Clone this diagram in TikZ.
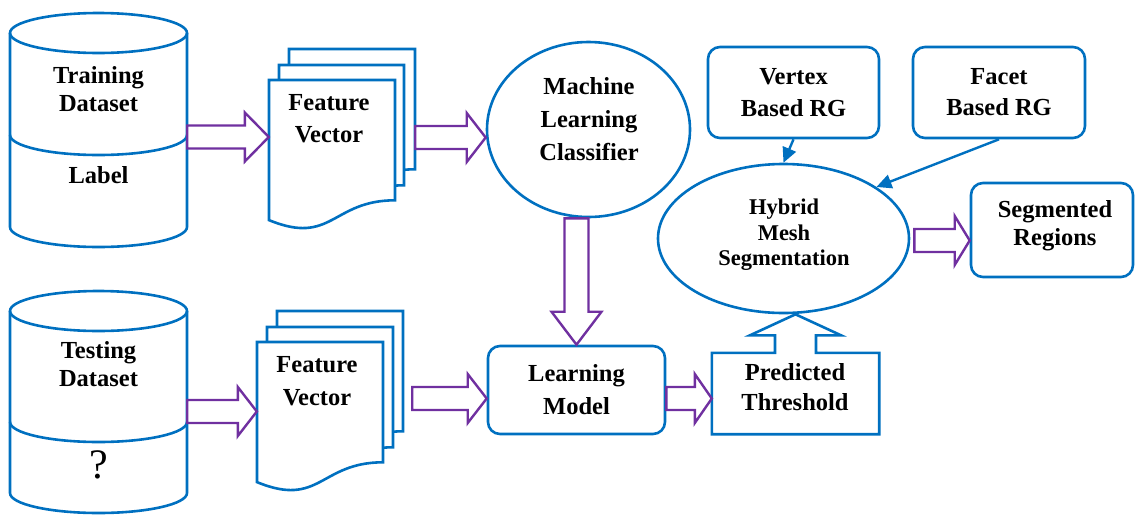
\documentclass[tikz,border=0pt]{standalone}
\usepackage{fontspec}
\setmainfont{Liberation Serif}
\usetikzlibrary{shapes.geometric,arrows.meta,calc}
\definecolor{lineblue}{HTML}{0070C0}
\definecolor{arrowpurple}{HTML}{7030A0}

% document page with a wavy lower edge: x, y (top left), width, height
\newcommand\docpage[4]{%
  \draw[docline] (#1,#2) -- ({#1+#3},#2) -- ({#1+#3},{#2+0.802*#4})
    .. controls ({#1+0.5*#3},{#2+0.802*#4}) and ({#1+0.5*#3},{#2+1.107*#4}) ..
    (#1,{#2+0.934*#4}) -- cycle;}

% database cylinder: centre x, half width, top y, divider y, bottom y, ry
\newcommand\database[6]{%
  \draw[shapeline] ({#1-#2},#3) -- ({#1-#2},#5)
    arc[start angle=180, end angle=360, x radius=#2pt, y radius=#6pt]
    -- ({#1+#2},#3);
  \draw[shapeline] (#1,#3) ellipse [x radius=#2pt, y radius=#6pt];
  \draw[shapeline] ({#1-#2},#4)
    arc[start angle=180, end angle=360, x radius=#2pt, y radius=#6pt];}

% horizontal block arrow: [head length]{start}{tip}{row y}
\newcommand\blockright[4][19]{%
  \draw[fatarrow] let \p1=(#2), \p2=(#3) in
    (\x1,-#4pt+11.5pt) -- (\x2-#1pt,-#4pt+11.5pt) -- (\x2-#1pt,-#4pt+24.5pt)
    -- (\x2,-#4pt) -- (\x2-#1pt,-#4pt-24.5pt) -- (\x2-#1pt,-#4pt-11.5pt)
    -- (\x1,-#4pt-11.5pt) -- cycle;}

\begin{document}
\begin{tikzpicture}[x=1pt,y=-1pt,
  shapeline/.style={draw=lineblue, line width=2.6pt},
  docline/.style={shapeline, fill=white, line join=miter},
  txt/.style={font=\fontsize{24.5}{33}\selectfont\bfseries, align=center, inner sep=0pt},
  roundbox/.style={shapeline, rounded corners=12pt, inner sep=0pt},
  oval/.style={shapeline, ellipse, inner sep=0pt},
  region/.style={inner sep=0pt},
  fatarrow/.style={draw=arrowpurple, line width=2.4pt, fill=white, line join=miter},
  thinarrow/.style={draw=lineblue, line width=2.4pt, -{Triangle[length=15pt,width=14pt]}},
]
\useasboundingbox (0,0) rectangle (1135,515);

% ---- training database ----
\database{98.5}{88.5}{33}{135}{227}{20}
\node[region, minimum width=177pt, minimum height=234pt] (train) at (98.5,130) {};
\node[txt, font=\fontsize{24.5}{28}\selectfont\bfseries] (traint) at (98.5,89) {Training\\Dataset};
\node[txt] (label) at (98.5,175) {Label};

% ---- testing database ----
\database{98.5}{88.5}{311}{422}{493}{20}
\node[region, minimum width=177pt, minimum height=222pt] (test) at (98.5,402) {};
\node[txt, font=\fontsize{24.5}{28}\selectfont\bfseries] (testt) at (98.5,364) {Testing\\Dataset};
\node[inner sep=0pt, font=\fontsize{42}{42}\selectfont] (unknown) at (98.5,465) {?};

% ---- feature vector stacks ----
\docpage{289}{49}{126}{150}
\docpage{279}{65}{125}{150}
\docpage{269}{80}{126}{150}
\node[region, minimum width=146pt, minimum height=181pt] (fvt) at (342,139.5) {};
\node[txt, font=\fontsize{24.5}{32}\selectfont\bfseries] (fvttext) at (329,119) {Feature\\Vector};

\docpage{277}{311}{126}{150}
\docpage{267}{327}{126}{150}
\docpage{257}{342}{126}{150}
\node[region, minimum width=146pt, minimum height=181pt] (fvb) at (330,401.5) {};
\node[txt] (fvbtext) at (317,381.5) {Feature\\Vector};

% ---- classifier and learning model ----
\node[oval, minimum width=203pt, minimum height=175pt] (ml) at (588.5,129.5) {};
\node[txt] (mltext) at (589,119) {Machine\\Learning\\Classifier};
\node[roundbox, txt, minimum width=177pt, minimum height=88pt] (lm) at (576.5,390) {Learning\\Model};

% ---- region growing sources ----
\node[roundbox, txt, font=\fontsize{24.5}{32}\selectfont\bfseries,
      minimum width=171pt, minimum height=91pt] (vx) at (793.5,92.5) {Vertex\\Based RG};
\node[roundbox, txt, font=\fontsize{24.5}{31}\selectfont\bfseries,
      minimum width=172pt, minimum height=91pt] (fc) at (999,92.5) {Facet\\Based RG};

% ---- hybrid segmentation ----
\node[oval, minimum width=251pt, minimum height=149pt] (hy) at (783.5,238.5) {};
\node[txt, font=\fontsize{22.5}{25.5}\selectfont\bfseries] (hytext) at (784,235) {Hybrid\\Mesh\\Segmentation};

\node[roundbox, minimum width=162pt, minimum height=94pt] (seg) at (1052,230) {};
\node[txt, font=\fontsize{24.5}{28}\selectfont\bfseries] (segtext) at (1055,226) {Segmented\\Regions};

% ---- predicted threshold with its upward block arrow ----
\node[region, minimum width=167pt, minimum height=81pt] (pt) at (795.5,393.5) {};
\node[txt, font=\fontsize{24.5}{30}\selectfont\bfseries] (pttext) at (795,387) {Predicted\\Threshold};
\draw[shapeline, line join=miter] let \p1=(pt.north), \p2=(hy.south) in
  (pt.north west) -- (\x1-20.5pt,\y1) -- (\x1-20.5pt,\y2-21pt) -- (\x1-45.5pt,\y2-21pt)
  -- (\x1,\y2) -- (\x1+45.5pt,\y2-21pt) -- (\x1+20.5pt,\y2-21pt) -- (\x1+20.5pt,\y1)
  -- (pt.north east) -- (pt.south east) -- (pt.south west) -- cycle;

% ---- block arrows ----
\blockright[24]{train.east}{fvt.west}{137}
\blockright{fvt.east}{ml.west}{137.5}
\blockright{test.east}{fvb.west}{411.5}
\blockright{[xshift=9pt]fvb.east}{lm.west}{398.5}
\blockright[17]{lm.east}{pt.west}{398.5}
\blockright[15]{[xshift=4pt]hy.east}{seg.west}{240.5}
\draw[fatarrow] let \p1=(ml.south), \p2=(lm.north) in
  (\x2-12pt,\y1) -- (\x2-12pt,\y2+33pt) -- (\x2-25pt,\y2+33pt) -- (\x2,\y2)
  -- (\x2+25pt,\y2+33pt) -- (\x2+12pt,\y2+33pt) -- (\x2+12pt,\y1) -- cycle;

% ---- thin connectors ----
\draw[thinarrow] (vx.south) -- (hy.north);
\draw[thinarrow] (fc.south) -- (hy.29);
\end{tikzpicture}
\end{document}
